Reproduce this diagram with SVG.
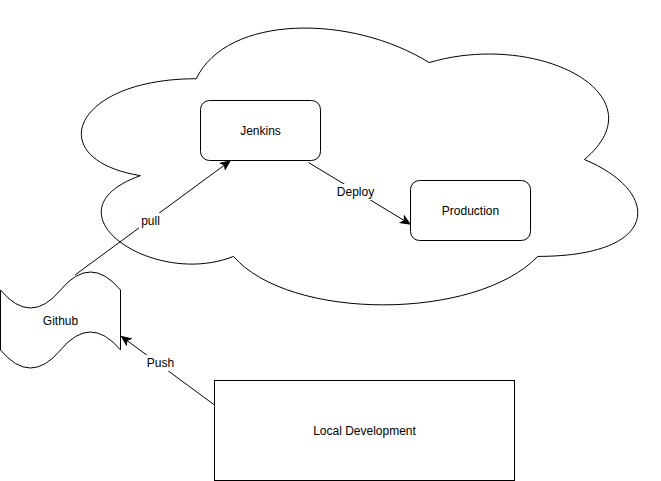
<svg xmlns="http://www.w3.org/2000/svg" width="661" height="481" viewBox="0 0 661 481">
<defs>
<marker id="arrow" markerUnits="userSpaceOnUse" markerWidth="12" markerHeight="12" viewBox="-10 -6 12 12" refX="0" refY="0" orient="auto">
<path d="M0,0 L-9,-4 L-6.75,0 L-9,4 Z" fill="#000" stroke="#000" stroke-width="1" stroke-linejoin="miter"/>
</marker>
</defs>
<style>
.shape{fill:#fff;stroke:#000;stroke-width:1}
.lbl{font-family:"Liberation Sans",Arial,Helvetica,sans-serif;font-size:12px;fill:#000;text-anchor:middle;dominant-baseline:central}
.edge{fill:none;stroke:#000;stroke-width:1;marker-end:url(#arrow)}
.lblbg{fill:#fff;stroke:none}
</style>
<rect width="661" height="481" fill="#fff"/>
<g id="cloud">
<path class="shape" d="M196.25,78.75 C72.05,78.75 41,159.5 140.36,175.65 C41,211.18 152.78,288.7 233.51,256.4 C289.4,321 475.7,321 537.8,256.4 C662,256.4 662,191.8 584.38,159.5 C662,94.9 537.8,30.3 429.13,62.6 C351.5,14.15 227.3,14.15 196.25,78.75 Z"/>
</g>
<g id="github">
<path class="shape" d="M0.5,290 Q30.5,326 60.5,290 Q90.5,254 120.5,290 L120.5,350 Q90.5,314 60.5,350 Q30.5,386 0.5,350 Z"/>
<text class="lbl" x="60.5" y="320.5">Github</text>
</g>
<g id="local-development">
<rect class="shape" x="214.5" y="380.5" width="300" height="100"/>
<text class="lbl" x="364.5" y="430.5">Local Development</text>
</g>
<g id="connectors">
<path class="edge" d="M75,275 L230,161"/>
<path class="edge" d="M308.5,162.5 L410,224"/>
<path class="edge" d="M214.5,405 L121.5,336.5"/>
<rect class="lblbg" x="139" y="213" width="23" height="16"/>
<text class="lbl" x="150.5" y="221">pull</text>
<rect class="lblbg" x="336" y="184" width="39" height="16"/>
<text class="lbl" x="355.5" y="192">Deploy</text>
<rect class="lblbg" x="145" y="355" width="31" height="16"/>
<text class="lbl" x="160.5" y="363">Push</text>
</g>
<g id="jenkins">
<rect class="shape" x="200.5" y="100.5" width="120" height="60" rx="9" ry="9"/>
<text class="lbl" x="260.5" y="130.5">Jenkins</text>
</g>
<g id="production">
<rect class="shape" x="410.5" y="180.5" width="120" height="60" rx="9" ry="9"/>
<text class="lbl" x="470.5" y="210.5">Production</text>
</g>
</svg>
